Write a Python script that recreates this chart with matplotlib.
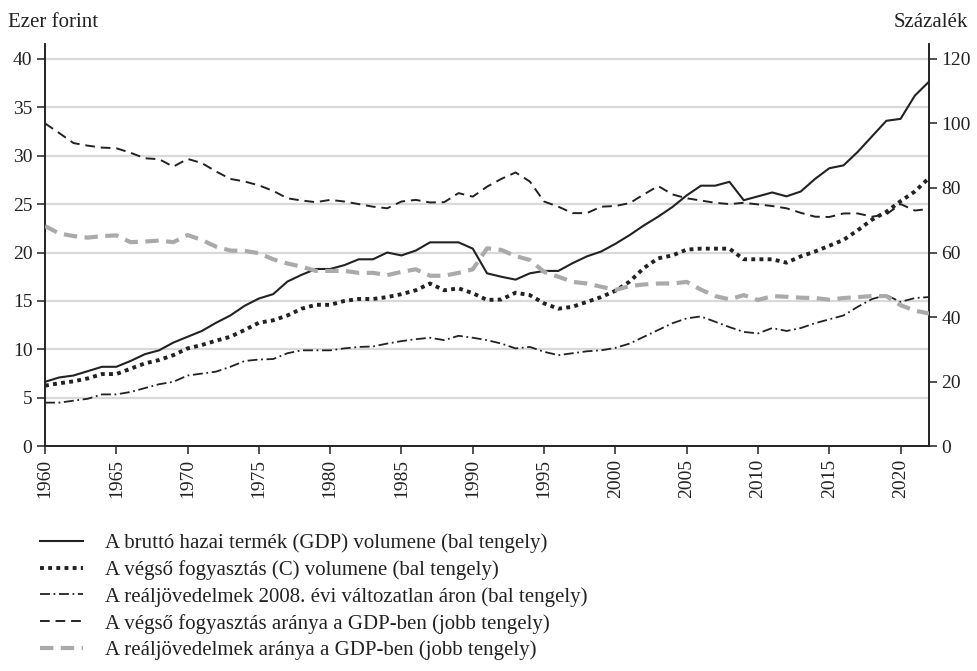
import matplotlib
matplotlib.use("Agg")
import matplotlib.pyplot as plt
import numpy as np

plt.rcParams['font.family'] = ['Liberation Serif', 'DejaVu Serif']

years = list(range(1960, 2023))

gdp = [6.65, 7.1, 7.3, 7.75, 8.2, 8.2, 8.8, 9.5, 9.9, 10.7,
       11.3, 11.9, 12.75, 13.5, 14.5, 15.25, 15.7, 17.0, 17.7, 18.3,
       18.3, 18.7, 19.3, 19.3, 20.0, 19.7, 20.2, 21.05, 21.05, 21.05,
       20.4, 17.85, 17.5, 17.2, 17.85, 18.1, 18.1, 18.9, 19.6, 20.1,
       20.9, 21.8, 22.8, 23.7, 24.7, 25.9, 26.9, 26.9, 27.3, 25.4,
       25.8, 26.2, 25.8, 26.3, 27.6, 28.7, 29.0, 30.4, 32.0, 33.6,
       33.8, 36.2, 37.65]

cons = [6.25, 6.5, 6.7, 7.0, 7.45, 7.45, 8.0, 8.55, 8.9, 9.4,
        10.1, 10.45, 10.9, 11.3, 12.0, 12.75, 13.0, 13.5, 14.2, 14.6,
        14.6, 15.0, 15.2, 15.2, 15.4, 15.7, 16.1, 16.8, 16.1, 16.3,
        15.8, 15.1, 15.15, 15.85, 15.6, 14.75, 14.2, 14.4, 14.9, 15.4,
        16.05, 17.0, 18.4, 19.4, 19.7, 20.3, 20.4, 20.4, 20.4, 19.3,
        19.3, 19.3, 18.95, 19.6, 20.1, 20.7, 21.3, 22.3, 23.4, 24.2,
        25.3, 26.3, 27.7]

income = [4.5, 4.5, 4.7, 4.9, 5.35, 5.35, 5.6, 6.0, 6.4, 6.65,
          7.3, 7.5, 7.7, 8.2, 8.8, 8.95, 9.0, 9.6, 9.9, 9.9,
          9.9, 10.1, 10.25, 10.3, 10.6, 10.85, 11.05, 11.2, 10.95, 11.4,
          11.2, 10.95, 10.6, 10.1, 10.25, 9.75, 9.4, 9.6, 9.8, 9.9,
          10.15, 10.6, 11.3, 12.0, 12.7, 13.2, 13.4, 12.85, 12.3, 11.8,
          11.65, 12.2, 11.9, 12.2, 12.7, 13.1, 13.5, 14.4, 15.2, 15.6,
          14.9, 15.3, 15.4]

cons_share = [100.0, 97.0, 93.9, 93.1, 92.5, 92.3, 90.9, 89.2, 88.9, 86.6,
              89.0, 87.7, 85.1, 82.8, 82.0, 80.8, 79.1, 76.8, 76.1, 75.6,
              76.3, 75.8, 75.0, 74.2, 73.7, 75.8, 76.3, 75.5, 75.6, 78.4,
              77.3, 80.4, 82.8, 84.8, 82.0, 75.8, 74.2, 72.2, 72.2, 74.2,
              74.4, 75.3, 78.0, 80.6, 78.0, 76.8, 76.1, 75.4, 75.0, 75.4,
              74.9, 74.4, 73.7, 72.3, 71.1, 71.0, 72.1, 72.1, 71.1, 71.8,
              75.0, 73.0, 73.5]

income_share = [68.2, 65.9, 65.1, 64.6, 65.1, 65.3, 63.2, 63.4, 63.7, 63.2,
                65.4, 63.9, 61.8, 60.6, 60.5, 59.8, 57.9, 56.6, 55.6, 54.3,
                54.3, 54.3, 53.7, 53.7, 53.0, 54.0, 54.8, 52.8, 52.8, 53.7,
                54.8, 61.3, 60.8, 58.9, 57.7, 54.0, 52.5, 50.9, 50.4, 49.4,
                48.4, 49.6, 50.1, 50.4, 50.4, 50.9, 48.5, 46.5, 45.5, 46.8,
                45.3, 46.5, 46.3, 46.0, 45.9, 45.4, 45.9, 46.2, 46.5, 46.5,
                43.7, 42.0, 41.1]

labels = [
    "A bruttó hazai termék (GDP) volumene (bal tengely)",
    "A végső fogyasztás (C) volumene (bal tengely)",
    "A reáljövedelmek 2008. évi változatlan áron (bal tengely)",
    "A végső fogyasztás aránya a GDP-ben (jobb tengely)",
    "A reáljövedelmek aránya a GDP-ben (jobb tengely)",
]

left_ticks = [0, 5, 10, 15, 20, 25, 30, 35, 40]
right_ticks = [0, 20, 40, 60, 80, 100, 120]
x_ticks = list(range(1960, 2021, 5))

FS = 14
FS_TXT = 15
fig = plt.figure(figsize=(9.78, 6.71), dpi=100)
ax = fig.add_axes([0.046, 0.335, 0.904, 0.599])
ax2 = ax.twinx()

grid_c = '#d9d9d9'
for t in left_ticks[1:]:
    ax.axhline(t, color=grid_c, lw=1.6, zorder=0)

l1, = ax.plot(years, gdp, color='#222222', lw=1.5, label=labels[0], zorder=3)
l2, = ax.plot(years, cons, color='#222222', lw=2.8, linestyle=(0, (1, 1.1)), label=labels[1], zorder=3)
l3, = ax.plot(years, income, color='#222222', lw=1.3, linestyle=(0, (5.5, 2, 1, 2)), label=labels[2], zorder=3)
l4, = ax2.plot(years, cons_share, color='#222222', lw=1.4, linestyle=(0, (5, 3)), label=labels[3], zorder=3)
l5, = ax2.plot(years, income_share, color='#aaaaaa', lw=3.0, linestyle=(0, (3.2, 1.8)), label=labels[4], zorder=3)

ax.set_xlim(1960, 2022)
ax.set_ylim(0, 41.5)
ax2.set_ylim(0, 124.5)
ax.set_yticks(left_ticks)
ax2.set_yticks(right_ticks)
ax.set_xticks(x_ticks)
ax.set_xticklabels([str(x) for x in x_ticks], rotation=90)

for a in (ax, ax2):
    a.spines['top'].set_visible(False)
    for s in ('left', 'right', 'bottom'):
        a.spines[s].set_color('#222222')
        a.spines[s].set_linewidth(1.2)
ax.tick_params(axis='both', labelsize=FS, length=6, width=1.1, color='#222222', labelcolor='#222222', pad=3)
ax2.tick_params(axis='y', labelsize=FS, length=6, width=1.1, color='#222222', labelcolor='#222222', pad=3)

fig.text(0.008, 0.967, "Ezer forint", fontsize=FS_TXT, color='#222222', va='center', ha='left')
fig.text(0.99, 0.967, "Százalék", fontsize=FS_TXT, color='#222222', va='center', ha='right')

fig.legend(handles=[l1, l2, l3, l4, l5], loc='upper left', bbox_to_anchor=(0.041, 0.205),
           frameon=False, fontsize=FS_TXT, handlelength=2.05, handletextpad=1.05,
           labelspacing=0.335, borderpad=0, borderaxespad=0, labelcolor='#222222')

fig.savefig("out.png", dpi=100)
